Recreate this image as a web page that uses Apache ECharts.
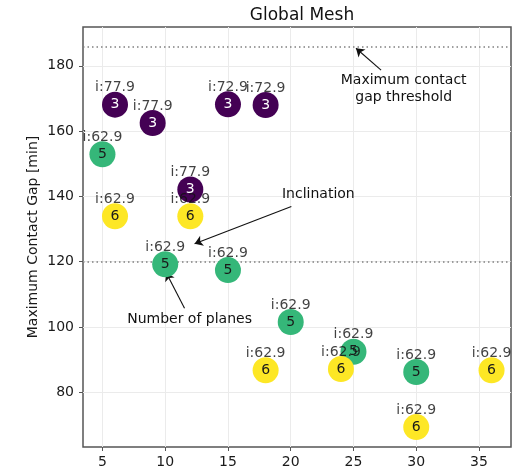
<!DOCTYPE html>
<html><head><meta charset="utf-8">
<script src="https://cdn.jsdelivr.net/npm/echarts@6/dist/echarts.min.js"></script>
<style>html,body{margin:0;padding:0;background:#fff}#c{width:515px;height:474px}</style>
</head><body><div id="c"></div>
<script>
// ---- data ----
var satellites   = [6, 9, 15, 18, 12, 5, 10, 15, 20, 25, 30, 6, 12, 18, 24, 30, 36];
var maxGap       = [168.1, 162.5, 168.2, 168.0, 142.1, 152.9, 119.2, 117.4, 101.5, 92.4, 86.2, 133.9, 133.9, 86.7, 87.1, 69.3, 86.7];
var numPlanes    = [3, 3, 3, 3, 3, 5, 5, 5, 5, 5, 5, 6, 6, 6, 6, 6, 6];
var inclination  = [77.9, 77.9, 72.9, 72.9, 77.9, 62.9, 62.9, 62.9, 62.9, 62.9, 62.9, 62.9, 62.9, 62.9, 62.9, 62.9, 62.9];
var xTicks = [5, 10, 15, 20, 25, 30, 35];
var yTicks = [80, 100, 120, 140, 160, 180];
var thresholdLines = [186, 120];
var annotations = [
  {text: 'Maximum contact\ngap threshold', at: [29.0, 172.9], from: [27.2, 178.7], to: [25.2, 185.4]},
  {text: 'Inclination', at: [22.2, 140.5], from: [20.05, 136.9], to: [12.34, 125.5]},
  {text: 'Number of planes', at: [11.94, 102.2], from: [11.54, 105.75], to: [10.08, 116.6]}
];

// ---- styles ----
var FONT = 'DejaVu Sans';
var planeColor = {3: '#440154', 5: '#35b779', 6: '#fde725'};
var planeTextColor = {3: '#ffffff', 5: '#1a1a1a', 6: '#1a1a1a'};

var pts = satellites.map(function (x, i) {
  return {
    value: [x, maxGap[i]],
    itemStyle: {color: planeColor[numPlanes[i]], opacity: 1},
    label: {color: planeTextColor[numPlanes[i]], formatter: String(numPlanes[i])}
  };
});
var inclPts = satellites.map(function (x, i) {
  return {value: [x, maxGap[i]], label: {formatter: 'i:' + inclination[i].toFixed(1)}};
});

var chart = echarts.init(document.getElementById('c'), null, {renderer: 'canvas'});
chart.setOption({
  animation: false,
  textStyle: {fontFamily: FONT},
  title: {
    text: 'Global Mesh', left: 297, top: 2, textAlign: 'center',
    textStyle: {fontFamily: FONT, fontSize: 17, fontWeight: 'normal', color: '#111'}
  },
  grid: {left: 83, right: 4, top: 27, bottom: 27, show: true, borderColor: '#555', borderWidth: 1.5, backgroundColor: '#fff'},
  xAxis: {
    type: 'value', min: 3.45, max: 37.55,
    axisLine: {show: false},
    splitLine: {show: false},
    axisTick: {show: true, length: 4, lineStyle: {color: '#555'}, customValues: xTicks},
    axisLabel: {margin: 8, fontSize: 14, color: '#1a1a1a', fontFamily: FONT, customValues: xTicks}
  },
  yAxis: {
    type: 'value', min: 63.2, max: 191.9,
    name: 'Maximum Contact Gap [min]', nameLocation: 'middle', nameGap: 43, nameMoveOverlap: false,
    nameTextStyle: {fontSize: 14, color: '#1a1a1a', fontFamily: FONT},
    axisLine: {show: false},
    splitLine: {show: false},
    axisTick: {show: true, length: 4, lineStyle: {color: '#555'}, customValues: yTicks},
    axisLabel: {margin: 9, fontSize: 14, color: '#1a1a1a', fontFamily: FONT, customValues: yTicks}
  },
  series: [
    {
      type: 'scatter', data: [], silent: true, z: 1,
      markLine: {
        silent: true, symbol: ['none', 'none'], label: {show: false},
        lineStyle: {color: '#ebebeb', width: 1, type: 'solid'},
        data: xTicks.map(function (v) { return {xAxis: v}; }).concat(yTicks.map(function (v) { return {yAxis: v}; }))
      }
    },
    {
      type: 'scatter', data: [], silent: true, z: 2,
      markLine: {
        silent: true, symbol: ['none', 'none'], label: {show: false},
        lineStyle: {color: '#808080', width: 1.5, type: [1.5, 3]},
        data: thresholdLines.map(function (v) { return {yAxis: v}; })
      }
    },
    {
      type: 'scatter', data: [], silent: true, z: 3,
      markLine: {
        silent: true, symbol: ['none', 'arrow'], symbolSize: 8, label: {show: false},
        itemStyle: {color: '#111'},
        lineStyle: {color: '#111', width: 1.1, type: 'solid'},
        data: annotations.map(function (a) { return [{coord: a.from}, {coord: a.to}]; })
      },
      markPoint: {
        silent: true, symbol: 'circle', symbolSize: 1, itemStyle: {color: 'rgba(0,0,0,0)'},
        label: {show: true, position: 'inside', formatter: '{b}', fontSize: 14, color: '#111', fontFamily: FONT, align: 'center', lineHeight: 17},
        data: annotations.map(function (a) { return {name: a.text, coord: a.at}; })
      }
    },
    {
      type: 'scatter', z: 5, symbolSize: 26, data: pts,
      itemStyle: {opacity: 1},
      label: {show: true, position: 'inside', fontSize: 14, fontFamily: FONT}
    },
    {
      type: 'scatter', z: 6, symbolSize: 26, data: inclPts, silent: true,
      itemStyle: {color: 'rgba(0,0,0,0)'},
      label: {show: true, position: 'inside', offset: [0, -17], fontSize: 14, color: '#111', fontFamily: FONT}
    }
  ]
});
</script>
</body></html>
